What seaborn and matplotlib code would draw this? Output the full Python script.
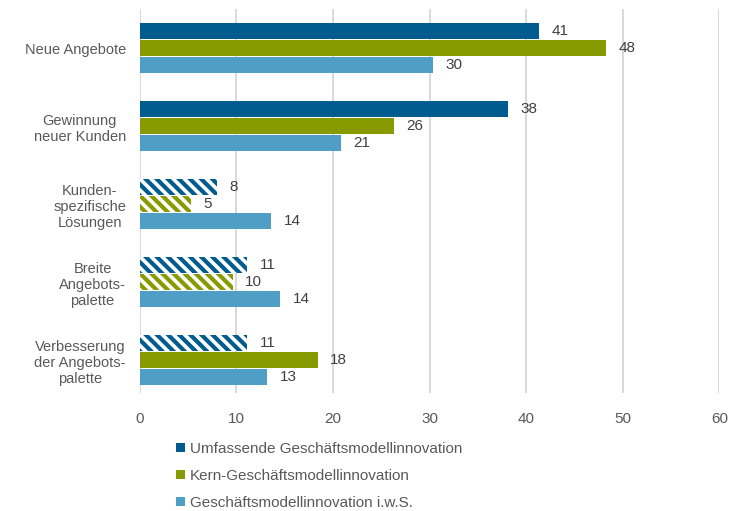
import pandas as pd
import numpy as np
import matplotlib
matplotlib.use("Agg")
import matplotlib.pyplot as plt
import seaborn as sns
from matplotlib.patches import Patch

# categories (y axis) and series
categories = ["Neue Angebote", "Gewinnung\nneuer Kunden", "Kunden-\nspezifische\nLösungen",
              "Breite\nAngebots-\npalette", "Verbesserung\nder Angebots-\npalette"]
series = ["Umfassende Geschäftsmodellinnovation", "Kern-Geschäftsmodellinnovation",
          "Geschäftsmodellinnovation i.w.S."]

# bar lengths
umfassende = [41.3, 38.1, 8.0, 11.1, 11.1]
kern = [48.3, 26.3, 5.3, 9.6, 18.4]
iws = [30.4, 20.8, 13.6, 14.5, 13.2]

# which bars are hatched (not significant)
hatched_umfassende = [False, False, True, True, True]
hatched_kern = [False, False, True, True, False]
hatched_iws = [False, False, False, False, False]

colors = ["#005b8e", "#879b00", "#4e9ec6"]

df = pd.DataFrame({
    "Kategorie": categories * 3,
    "Serie": [s for s in series for _ in categories],
    "Wert": umfassende + kern + iws,
})
hatch_flags = [hatched_umfassende, hatched_kern, hatched_iws]

plt.rcParams["font.family"] = ["Liberation Sans", "DejaVu Sans"]
plt.rcParams["hatch.linewidth"] = 3.0
text_color = "#595959"

fig = plt.figure(figsize=(7.4, 5.11), dpi=100)
ax = fig.add_axes([0.189, 0.231, 0.783, 0.751])

sns.barplot(data=df, x="Wert", y="Kategorie", hue="Serie", palette=colors,
            orient="h", width=0.66, gap=0.08, legend=False, ax=ax,
            saturation=1, errorbar=None)

# style hatched bars and add value labels
for i, cont in enumerate(ax.containers):
    for j, bar in enumerate(cont):
        if hatch_flags[i][j]:
            bar.set_facecolor("white")
            bar.set_edgecolor(colors[i])
            bar.set_hatch("\\\\\\")
            bar.set_linewidth(0)
    ax.bar_label(cont, labels=[f"{v:.0f}" for v in cont.datavalues], padding=9,
                 fontsize=11, color="#404040")

ax.set_xlim(0, 60)
ax.set_ylim(4.42, -0.5)
ax.set_xticks(range(0, 61, 10))
ax.set_xlabel("")
ax.set_ylabel("")
ax.grid(axis="x", color="#d9d9d9", linewidth=1.4)
ax.set_axisbelow(True)
for s in ax.spines.values():
    s.set_visible(False)
ax.tick_params(axis="both", length=0, labelsize=10.5, labelcolor=text_color)
ax.tick_params(axis="x", labelsize=11, pad=14)
ax.tick_params(axis="y", pad=10)
for lbl in ax.get_yticklabels():
    lbl.set_multialignment("center")

handles = [Patch(facecolor=c, edgecolor="none") for c in colors]
fig.legend(handles, series, loc="upper left", bbox_to_anchor=(0.238, 0.135),
           frameon=False, fontsize=11, labelcolor=text_color,
           handlelength=0.6, handleheight=0.6, handletextpad=0.3,
           labelspacing=0.85, borderaxespad=0, borderpad=0)

fig.savefig("out.png", dpi=100)
